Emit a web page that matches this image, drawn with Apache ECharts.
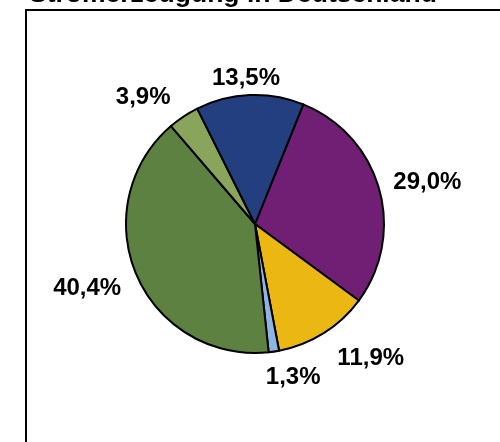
<!DOCTYPE html>
<html>
<head>
<meta charset="utf-8">
<script src="https://cdn.jsdelivr.net/npm/echarts@6/dist/echarts.min.js"></script>
<style>
html,body{margin:0;padding:0;background:#fff;}
#chart{width:500px;height:442px;}
</style>
</head>
<body>
<div id="chart"></div>
<script>
// Data (clockwise, starting at the purple slice)
const titleText = 'Stromerzeugung in Deutschland';
const categories = ['Kernenergie', 'Erdgas', 'Wasserkraft', 'Kohle', 'Windenergie', 'Sonstige'];
const values = [29.0, 11.9, 1.3, 40.4, 3.9, 13.5];

// Styling
const colors = ['#711F75', '#EBB813', '#8DB4E2', '#5C8140', '#88A55B', '#243F7F'];
const labelShift = [[-5, -1], [3, 8], [-11, 6], [3, 5], [-2, -3], [31, 3]];

const chart = echarts.init(document.getElementById('chart'), null, {renderer: 'canvas'});
chart.setOption({
  animation: false,
  backgroundColor: '#ffffff',
  title: {
    text: titleText,
    left: 29,
    top: -19,
    padding: 0,
    textStyle: {fontFamily: 'Liberation Sans, Arial, sans-serif', fontSize: 26.5, fontWeight: 'bold', color: '#000'}
  },
  graphic: [{
    type: 'rect',
    silent: true,
    z: -1,
    shape: {x: 26, y: 10, width: 520, height: 520},
    style: {fill: 'none', stroke: '#000', lineWidth: 2}
  }],
  series: [{
    type: 'pie',
    center: [255, 224],
    radius: 129,
    startAngle: 68,
    clockwise: true,
    avoidLabelOverlap: false,
    itemStyle: {borderColor: '#000', borderWidth: 2},
    label: {
      show: true,
      position: 'outside',
      distanceToLabelLine: 0,
      fontFamily: 'Liberation Sans, Arial, sans-serif',
      fontSize: 24,
      fontWeight: 'bold',
      color: '#000',
      formatter: p => p.value.toFixed(1).replace('.', ',') + '%'
    },
    labelLine: {show: false, length: 20, length2: 0},
    labelLayout: p => ({dx: labelShift[p.dataIndex][0], dy: labelShift[p.dataIndex][1]}),
    emphasis: {disabled: true},
    data: categories.map((c, i) => ({name: c, value: values[i], itemStyle: {color: colors[i]}}))
  }]
});
</script>
</body>
</html>
